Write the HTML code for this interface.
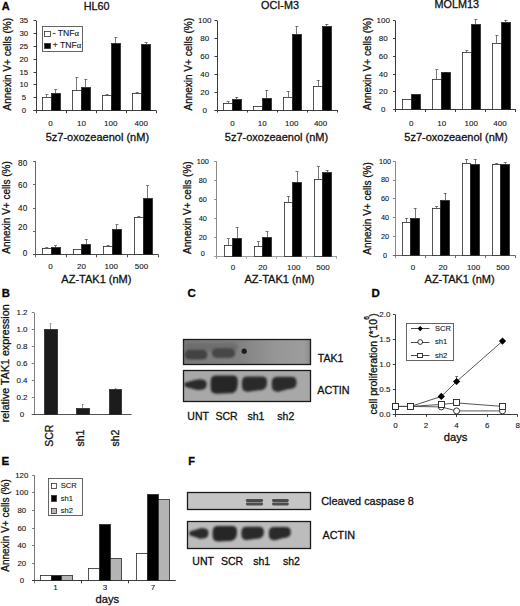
<!DOCTYPE html>
<html><head><meta charset="utf-8"><style>
html,body{margin:0;padding:0;background:#fff;}
body{width:520px;height:606px;overflow:hidden;}
svg{display:block;font-family:"Liberation Sans", sans-serif;}
text{stroke:#111;stroke-width:0.3px;}
text.s{stroke:#222;stroke-width:0.1px;}
</style></head><body>
<svg width="520" height="606" viewBox="0 0 520 606">
<defs>
<filter id="b1" x="-50%" y="-50%" width="200%" height="200%"><feGaussianBlur stdDeviation="1.25"/></filter>
<filter id="b2" x="-50%" y="-50%" width="200%" height="200%"><feGaussianBlur stdDeviation="1.8"/></filter>
<filter id="b07" x="-50%" y="-50%" width="200%" height="200%"><feGaussianBlur stdDeviation="0.75"/></filter>
<filter id="b05" x="-50%" y="-50%" width="200%" height="200%"><feGaussianBlur stdDeviation="0.6"/></filter>
<linearGradient id="gtak" x1="0" x2="1" y1="0" y2="0"><stop offset="0" stop-color="#7a7a7a"/><stop offset="0.45" stop-color="#828282"/><stop offset="0.6" stop-color="#8d8d8d"/><stop offset="0.72" stop-color="#969696"/><stop offset="0.88" stop-color="#9b9b9b"/><stop offset="0.95" stop-color="#9d9d9d"/><stop offset="1" stop-color="#8a8a8a"/></linearGradient>
</defs>
<rect x="0" y="0" width="520" height="606" fill="#fff"/>
<line x1="36.50" y1="20.60" x2="36.50" y2="113.20" stroke="#3a3a3a" stroke-width="1"/>
<line x1="33.50" y1="110.50" x2="36.00" y2="110.50" stroke="#3a3a3a" stroke-width="1"/>
<text class="s" x="23.80" y="113.20" font-size="7.8" text-anchor="middle" font-weight="normal" fill="#111">0</text>
<line x1="33.50" y1="97.50" x2="36.00" y2="97.50" stroke="#3a3a3a" stroke-width="1"/>
<text class="s" x="23.80" y="100.32" font-size="7.8" text-anchor="middle" font-weight="normal" fill="#111">5</text>
<line x1="33.50" y1="84.50" x2="36.00" y2="84.50" stroke="#3a3a3a" stroke-width="1"/>
<text class="s" x="23.80" y="87.45" font-size="7.8" text-anchor="middle" font-weight="normal" fill="#111">10</text>
<line x1="33.50" y1="72.50" x2="36.00" y2="72.50" stroke="#3a3a3a" stroke-width="1"/>
<text class="s" x="23.80" y="74.58" font-size="7.8" text-anchor="middle" font-weight="normal" fill="#111">15</text>
<line x1="33.50" y1="59.50" x2="36.00" y2="59.50" stroke="#3a3a3a" stroke-width="1"/>
<text class="s" x="23.80" y="61.71" font-size="7.8" text-anchor="middle" font-weight="normal" fill="#111">20</text>
<line x1="33.50" y1="46.50" x2="36.00" y2="46.50" stroke="#3a3a3a" stroke-width="1"/>
<text class="s" x="23.80" y="48.84" font-size="7.8" text-anchor="middle" font-weight="normal" fill="#111">25</text>
<line x1="33.50" y1="33.50" x2="36.00" y2="33.50" stroke="#3a3a3a" stroke-width="1"/>
<text class="s" x="23.80" y="35.97" font-size="7.8" text-anchor="middle" font-weight="normal" fill="#111">30</text>
<line x1="33.50" y1="20.50" x2="36.00" y2="20.50" stroke="#3a3a3a" stroke-width="1"/>
<text class="s" x="23.80" y="23.10" font-size="7.8" text-anchor="middle" font-weight="normal" fill="#111">35</text>
<line x1="33.50" y1="110.50" x2="156.50" y2="110.50" stroke="#3a3a3a" stroke-width="1"/>
<line x1="66.50" y1="110.70" x2="66.50" y2="113.20" stroke="#3a3a3a" stroke-width="1"/>
<line x1="96.50" y1="110.70" x2="96.50" y2="113.20" stroke="#3a3a3a" stroke-width="1"/>
<line x1="126.50" y1="110.70" x2="126.50" y2="113.20" stroke="#3a3a3a" stroke-width="1"/>
<line x1="156.50" y1="110.70" x2="156.50" y2="113.20" stroke="#3a3a3a" stroke-width="1"/>
<line x1="46.50" y1="95.00" x2="46.50" y2="97.31" stroke="#555" stroke-width="0.8"/>
<line x1="45.35" y1="94.50" x2="48.35" y2="94.50" stroke="#555" stroke-width="0.8"/>
<rect x="42.50" y="97.50" width="9.00" height="13.00" fill="#fff" stroke="#2a2a2a" stroke-width="0.8"/>
<line x1="55.50" y1="89.33" x2="55.50" y2="93.19" stroke="#555" stroke-width="0.8"/>
<line x1="54.25" y1="89.50" x2="57.25" y2="89.50" stroke="#555" stroke-width="0.8"/>
<rect x="51.50" y="93.50" width="9.00" height="17.00" fill="#000" stroke="#2a2a2a" stroke-width="0.8"/>
<line x1="76.50" y1="77.75" x2="76.50" y2="90.88" stroke="#555" stroke-width="0.8"/>
<line x1="75.45" y1="77.50" x2="78.45" y2="77.50" stroke="#555" stroke-width="0.8"/>
<rect x="72.50" y="90.50" width="9.00" height="20.00" fill="#fff" stroke="#2a2a2a" stroke-width="0.8"/>
<line x1="85.50" y1="79.55" x2="85.50" y2="87.27" stroke="#555" stroke-width="0.8"/>
<line x1="84.35" y1="79.50" x2="87.35" y2="79.50" stroke="#555" stroke-width="0.8"/>
<rect x="81.50" y="87.50" width="9.00" height="23.00" fill="#000" stroke="#2a2a2a" stroke-width="0.8"/>
<line x1="107.50" y1="94.48" x2="107.50" y2="95.25" stroke="#555" stroke-width="0.8"/>
<line x1="105.55" y1="94.50" x2="108.55" y2="94.50" stroke="#555" stroke-width="0.8"/>
<rect x="102.50" y="95.50" width="9.00" height="15.00" fill="#fff" stroke="#2a2a2a" stroke-width="0.8"/>
<line x1="115.50" y1="37.33" x2="115.50" y2="43.51" stroke="#555" stroke-width="0.8"/>
<line x1="114.45" y1="37.50" x2="117.45" y2="37.50" stroke="#555" stroke-width="0.8"/>
<rect x="111.50" y="43.50" width="9.00" height="67.00" fill="#000" stroke="#2a2a2a" stroke-width="0.8"/>
<line x1="137.50" y1="92.17" x2="137.50" y2="93.71" stroke="#555" stroke-width="0.8"/>
<line x1="135.65" y1="92.50" x2="138.65" y2="92.50" stroke="#555" stroke-width="0.8"/>
<rect x="132.50" y="93.50" width="9.00" height="17.00" fill="#fff" stroke="#2a2a2a" stroke-width="0.8"/>
<line x1="146.50" y1="42.74" x2="146.50" y2="44.03" stroke="#555" stroke-width="0.8"/>
<line x1="144.55" y1="42.50" x2="147.55" y2="42.50" stroke="#555" stroke-width="0.8"/>
<rect x="141.50" y="44.50" width="9.00" height="66.00" fill="#000" stroke="#2a2a2a" stroke-width="0.8"/>
<text class="s" x="50.50" y="125.96" font-size="8" text-anchor="middle" font-weight="normal" fill="#111">0</text>
<text class="s" x="81.50" y="125.96" font-size="8" text-anchor="middle" font-weight="normal" fill="#111">10</text>
<text class="s" x="110.80" y="125.96" font-size="8" text-anchor="middle" font-weight="normal" fill="#111">100</text>
<text class="s" x="141.30" y="125.96" font-size="8" text-anchor="middle" font-weight="normal" fill="#111">400</text>
<text x="7.70" y="67.40" font-size="10" text-anchor="middle" font-weight="normal" fill="#111" transform="rotate(-90 7.70 64.20)">Annexin V+ cells (%)</text>
<line x1="217.50" y1="20.50" x2="217.50" y2="112.50" stroke="#3a3a3a" stroke-width="1"/>
<line x1="214.50" y1="110.50" x2="217.00" y2="110.50" stroke="#3a3a3a" stroke-width="1"/>
<text class="s" x="204.80" y="112.56" font-size="8" text-anchor="middle" font-weight="normal" fill="#111">0</text>
<line x1="214.50" y1="92.50" x2="217.00" y2="92.50" stroke="#3a3a3a" stroke-width="1"/>
<text class="s" x="204.80" y="94.66" font-size="8" text-anchor="middle" font-weight="normal" fill="#111">20</text>
<line x1="214.50" y1="74.50" x2="217.00" y2="74.50" stroke="#3a3a3a" stroke-width="1"/>
<text class="s" x="204.80" y="76.76" font-size="8" text-anchor="middle" font-weight="normal" fill="#111">40</text>
<line x1="214.50" y1="56.50" x2="217.00" y2="56.50" stroke="#3a3a3a" stroke-width="1"/>
<text class="s" x="204.80" y="58.86" font-size="8" text-anchor="middle" font-weight="normal" fill="#111">60</text>
<line x1="214.50" y1="38.50" x2="217.00" y2="38.50" stroke="#3a3a3a" stroke-width="1"/>
<text class="s" x="204.80" y="40.96" font-size="8" text-anchor="middle" font-weight="normal" fill="#111">80</text>
<line x1="214.50" y1="20.50" x2="217.00" y2="20.50" stroke="#3a3a3a" stroke-width="1"/>
<text class="s" x="204.80" y="23.06" font-size="8" text-anchor="middle" font-weight="normal" fill="#111">100</text>
<line x1="214.50" y1="110.50" x2="337.00" y2="110.50" stroke="#3a3a3a" stroke-width="1"/>
<line x1="247.50" y1="110.00" x2="247.50" y2="112.50" stroke="#3a3a3a" stroke-width="1"/>
<line x1="277.50" y1="110.00" x2="277.50" y2="112.50" stroke="#3a3a3a" stroke-width="1"/>
<line x1="307.50" y1="110.00" x2="307.50" y2="112.50" stroke="#3a3a3a" stroke-width="1"/>
<line x1="337.50" y1="110.00" x2="337.50" y2="112.50" stroke="#3a3a3a" stroke-width="1"/>
<line x1="228.50" y1="101.32" x2="228.50" y2="103.91" stroke="#555" stroke-width="0.8"/>
<line x1="226.60" y1="101.50" x2="229.60" y2="101.50" stroke="#555" stroke-width="0.8"/>
<rect x="223.50" y="103.50" width="9.00" height="7.00" fill="#fff" stroke="#2a2a2a" stroke-width="0.8"/>
<line x1="236.50" y1="97.02" x2="236.50" y2="99.26" stroke="#555" stroke-width="0.8"/>
<line x1="235.35" y1="97.50" x2="238.35" y2="97.50" stroke="#555" stroke-width="0.8"/>
<rect x="232.50" y="99.50" width="9.00" height="11.00" fill="#000" stroke="#2a2a2a" stroke-width="0.8"/>
<rect x="253.50" y="106.50" width="9.00" height="4.00" fill="#fff" stroke="#2a2a2a" stroke-width="0.8"/>
<line x1="266.50" y1="90.31" x2="266.50" y2="98.10" stroke="#555" stroke-width="0.8"/>
<line x1="265.35" y1="90.50" x2="268.35" y2="90.50" stroke="#555" stroke-width="0.8"/>
<rect x="262.50" y="98.50" width="9.00" height="12.00" fill="#000" stroke="#2a2a2a" stroke-width="0.8"/>
<line x1="288.50" y1="91.20" x2="288.50" y2="97.56" stroke="#555" stroke-width="0.8"/>
<line x1="286.60" y1="91.50" x2="289.60" y2="91.50" stroke="#555" stroke-width="0.8"/>
<rect x="283.50" y="97.50" width="9.00" height="13.00" fill="#fff" stroke="#2a2a2a" stroke-width="0.8"/>
<line x1="296.50" y1="26.23" x2="296.50" y2="34.10" stroke="#555" stroke-width="0.8"/>
<line x1="295.35" y1="26.50" x2="298.35" y2="26.50" stroke="#555" stroke-width="0.8"/>
<rect x="292.50" y="34.50" width="9.00" height="76.00" fill="#000" stroke="#2a2a2a" stroke-width="0.8"/>
<line x1="318.50" y1="80.11" x2="318.50" y2="86.73" stroke="#555" stroke-width="0.8"/>
<line x1="316.60" y1="80.50" x2="319.60" y2="80.50" stroke="#555" stroke-width="0.8"/>
<rect x="313.50" y="86.50" width="9.00" height="24.00" fill="#fff" stroke="#2a2a2a" stroke-width="0.8"/>
<line x1="326.50" y1="24.08" x2="326.50" y2="26.23" stroke="#555" stroke-width="0.8"/>
<line x1="325.35" y1="24.50" x2="328.35" y2="24.50" stroke="#555" stroke-width="0.8"/>
<rect x="322.50" y="26.50" width="9.00" height="84.00" fill="#000" stroke="#2a2a2a" stroke-width="0.8"/>
<text class="s" x="232.50" y="125.96" font-size="8" text-anchor="middle" font-weight="normal" fill="#111">0</text>
<text class="s" x="262.20" y="125.96" font-size="8" text-anchor="middle" font-weight="normal" fill="#111">10</text>
<text class="s" x="291.80" y="125.96" font-size="8" text-anchor="middle" font-weight="normal" fill="#111">100</text>
<text class="s" x="320.60" y="125.96" font-size="8" text-anchor="middle" font-weight="normal" fill="#111">400</text>
<text x="188.60" y="67.40" font-size="10" text-anchor="middle" font-weight="normal" fill="#111" transform="rotate(-90 188.60 64.20)">Annexin V+ cells (%)</text>
<line x1="395.50" y1="20.80" x2="395.50" y2="112.00" stroke="#3a3a3a" stroke-width="1"/>
<line x1="393.00" y1="109.50" x2="395.50" y2="109.50" stroke="#3a3a3a" stroke-width="1"/>
<text class="s" x="383.30" y="112.06" font-size="8" text-anchor="middle" font-weight="normal" fill="#111">0</text>
<line x1="393.00" y1="91.50" x2="395.50" y2="91.50" stroke="#3a3a3a" stroke-width="1"/>
<text class="s" x="383.30" y="94.32" font-size="8" text-anchor="middle" font-weight="normal" fill="#111">20</text>
<line x1="393.00" y1="74.50" x2="395.50" y2="74.50" stroke="#3a3a3a" stroke-width="1"/>
<text class="s" x="383.30" y="76.58" font-size="8" text-anchor="middle" font-weight="normal" fill="#111">40</text>
<line x1="393.00" y1="56.50" x2="395.50" y2="56.50" stroke="#3a3a3a" stroke-width="1"/>
<text class="s" x="383.30" y="58.84" font-size="8" text-anchor="middle" font-weight="normal" fill="#111">60</text>
<line x1="393.00" y1="38.50" x2="395.50" y2="38.50" stroke="#3a3a3a" stroke-width="1"/>
<text class="s" x="383.30" y="41.10" font-size="8" text-anchor="middle" font-weight="normal" fill="#111">80</text>
<line x1="393.00" y1="20.50" x2="395.50" y2="20.50" stroke="#3a3a3a" stroke-width="1"/>
<text class="s" x="383.30" y="23.36" font-size="8" text-anchor="middle" font-weight="normal" fill="#111">100</text>
<line x1="393.00" y1="109.50" x2="515.80" y2="109.50" stroke="#3a3a3a" stroke-width="1"/>
<line x1="425.50" y1="109.50" x2="425.50" y2="112.00" stroke="#3a3a3a" stroke-width="1"/>
<line x1="455.50" y1="109.50" x2="455.50" y2="112.00" stroke="#3a3a3a" stroke-width="1"/>
<line x1="485.50" y1="109.50" x2="485.50" y2="112.00" stroke="#3a3a3a" stroke-width="1"/>
<line x1="515.50" y1="109.50" x2="515.50" y2="112.00" stroke="#3a3a3a" stroke-width="1"/>
<rect x="402.50" y="99.50" width="9.00" height="10.00" fill="#fff" stroke="#2a2a2a" stroke-width="0.8"/>
<rect x="411.50" y="94.50" width="9.00" height="15.00" fill="#000" stroke="#2a2a2a" stroke-width="0.8"/>
<line x1="436.50" y1="69.85" x2="436.50" y2="79.25" stroke="#555" stroke-width="0.8"/>
<line x1="435.40" y1="69.50" x2="438.40" y2="69.50" stroke="#555" stroke-width="0.8"/>
<rect x="432.50" y="79.50" width="9.00" height="30.00" fill="#fff" stroke="#2a2a2a" stroke-width="0.8"/>
<line x1="445.50" y1="72.25" x2="445.50" y2="72.69" stroke="#555" stroke-width="0.8"/>
<line x1="444.40" y1="72.50" x2="447.40" y2="72.50" stroke="#555" stroke-width="0.8"/>
<rect x="441.50" y="72.50" width="9.00" height="37.00" fill="#000" stroke="#2a2a2a" stroke-width="0.8"/>
<line x1="466.50" y1="50.87" x2="466.50" y2="52.91" stroke="#555" stroke-width="0.8"/>
<line x1="465.40" y1="50.50" x2="468.40" y2="50.50" stroke="#555" stroke-width="0.8"/>
<rect x="462.50" y="52.50" width="9.00" height="57.00" fill="#fff" stroke="#2a2a2a" stroke-width="0.8"/>
<line x1="475.50" y1="19.03" x2="475.50" y2="24.26" stroke="#555" stroke-width="0.8"/>
<line x1="474.40" y1="19.50" x2="477.40" y2="19.50" stroke="#555" stroke-width="0.8"/>
<rect x="471.50" y="24.50" width="9.00" height="85.00" fill="#000" stroke="#2a2a2a" stroke-width="0.8"/>
<line x1="496.50" y1="35.52" x2="496.50" y2="43.42" stroke="#555" stroke-width="0.8"/>
<line x1="495.40" y1="35.50" x2="498.40" y2="35.50" stroke="#555" stroke-width="0.8"/>
<rect x="492.50" y="43.50" width="9.00" height="66.00" fill="#fff" stroke="#2a2a2a" stroke-width="0.8"/>
<line x1="505.50" y1="20.09" x2="505.50" y2="22.04" stroke="#555" stroke-width="0.8"/>
<line x1="504.40" y1="20.50" x2="507.40" y2="20.50" stroke="#555" stroke-width="0.8"/>
<rect x="501.50" y="22.50" width="9.00" height="87.00" fill="#000" stroke="#2a2a2a" stroke-width="0.8"/>
<text class="s" x="411.30" y="125.96" font-size="8" text-anchor="middle" font-weight="normal" fill="#111">0</text>
<text class="s" x="441.70" y="125.96" font-size="8" text-anchor="middle" font-weight="normal" fill="#111">10</text>
<text class="s" x="471.30" y="125.96" font-size="8" text-anchor="middle" font-weight="normal" fill="#111">100</text>
<text class="s" x="500.00" y="125.96" font-size="8" text-anchor="middle" font-weight="normal" fill="#111">400</text>
<text x="367.60" y="67.20" font-size="10" text-anchor="middle" font-weight="normal" fill="#111" transform="rotate(-90 367.60 64.00)">Annexin V+ cells (%)</text>
<text x="97.40" y="141.22" font-size="11" text-anchor="middle" font-weight="normal" fill="#111">5z7-oxozeaenol (nM)</text>
<text x="276.50" y="141.32" font-size="11" text-anchor="middle" font-weight="normal" fill="#111">5z7-oxozeaenol (nM)</text>
<text x="456.00" y="141.32" font-size="11" text-anchor="middle" font-weight="normal" fill="#111">5z7-oxozeaenol (nM)</text>
<text x="96.60" y="9.66" font-size="10.8" text-anchor="middle" font-weight="normal" fill="#111">HL60</text>
<text x="280.00" y="9.36" font-size="10.8" text-anchor="middle" font-weight="normal" fill="#111">OCI-M3</text>
<text x="456.70" y="8.36" font-size="10.8" text-anchor="middle" font-weight="normal" fill="#111">MOLM13</text>
<text x="1.80" y="9.52" font-size="11" text-anchor="start" font-weight="bold" fill="#000">A</text>
<rect x="42.50" y="26.50" width="40.00" height="25.00" fill="#fff" stroke="#555" stroke-width="0.9"/>
<rect x="44.50" y="31.50" width="6.00" height="5.00" fill="#fff" stroke="#333" stroke-width="0.8"/>
<rect x="44.50" y="43.50" width="6.00" height="5.00" fill="#000" stroke="#333" stroke-width="0.8"/>
<text class="s" x="52.70" y="36.35" font-size="8.6" text-anchor="start" font-weight="normal" fill="#111">- TNF<tspan font-family="Liberation Serif">α</tspan></text>
<text class="s" x="52.70" y="48.45" font-size="8.6" text-anchor="start" font-weight="normal" fill="#111">+ TNF<tspan font-family="Liberation Serif">α</tspan></text>
<line x1="35.50" y1="161.20" x2="35.50" y2="257.30" stroke="#666" stroke-width="1"/>
<line x1="33.00" y1="254.50" x2="35.50" y2="254.50" stroke="#666" stroke-width="1"/>
<text class="s" x="27.20" y="255.72" font-size="8.2" text-anchor="end" font-weight="normal" fill="#111">0</text>
<line x1="33.00" y1="231.50" x2="35.50" y2="231.50" stroke="#666" stroke-width="1"/>
<text class="s" x="27.20" y="230.22" font-size="8.2" text-anchor="end" font-weight="normal" fill="#111">20</text>
<line x1="33.00" y1="208.50" x2="35.50" y2="208.50" stroke="#666" stroke-width="1"/>
<text class="s" x="27.20" y="211.12" font-size="8.2" text-anchor="end" font-weight="normal" fill="#111">40</text>
<line x1="33.00" y1="184.50" x2="35.50" y2="184.50" stroke="#666" stroke-width="1"/>
<text class="s" x="27.20" y="187.72" font-size="8.2" text-anchor="end" font-weight="normal" fill="#111">60</text>
<line x1="33.00" y1="161.50" x2="35.50" y2="161.50" stroke="#666" stroke-width="1"/>
<text class="s" x="27.20" y="166.22" font-size="8.2" text-anchor="end" font-weight="normal" fill="#111">80</text>
<line x1="33.00" y1="254.50" x2="158.70" y2="254.50" stroke="#4a4a4a" stroke-width="1"/>
<line x1="66.50" y1="254.80" x2="66.50" y2="257.30" stroke="#4a4a4a" stroke-width="1"/>
<line x1="96.50" y1="254.80" x2="96.50" y2="257.30" stroke="#4a4a4a" stroke-width="1"/>
<line x1="127.50" y1="254.80" x2="127.50" y2="257.30" stroke="#4a4a4a" stroke-width="1"/>
<line x1="158.50" y1="254.80" x2="158.50" y2="257.30" stroke="#4a4a4a" stroke-width="1"/>
<line x1="46.50" y1="247.55" x2="46.50" y2="248.25" stroke="#555" stroke-width="0.8"/>
<line x1="45.25" y1="247.50" x2="48.25" y2="247.50" stroke="#555" stroke-width="0.8"/>
<rect x="42.50" y="248.50" width="9.00" height="6.00" fill="#fff" stroke="#2a2a2a" stroke-width="0.8"/>
<line x1="55.50" y1="245.79" x2="55.50" y2="247.78" stroke="#555" stroke-width="0.8"/>
<line x1="54.05" y1="245.50" x2="57.05" y2="245.50" stroke="#555" stroke-width="0.8"/>
<rect x="51.50" y="247.50" width="9.00" height="7.00" fill="#000" stroke="#2a2a2a" stroke-width="0.8"/>
<rect x="73.50" y="249.50" width="8.00" height="5.00" fill="#fff" stroke="#2a2a2a" stroke-width="0.8"/>
<line x1="86.50" y1="239.12" x2="86.50" y2="244.86" stroke="#555" stroke-width="0.8"/>
<line x1="84.75" y1="239.50" x2="87.75" y2="239.50" stroke="#555" stroke-width="0.8"/>
<rect x="81.50" y="244.50" width="9.00" height="10.00" fill="#000" stroke="#2a2a2a" stroke-width="0.8"/>
<line x1="108.50" y1="245.21" x2="108.50" y2="246.03" stroke="#555" stroke-width="0.8"/>
<line x1="106.65" y1="245.50" x2="109.65" y2="245.50" stroke="#555" stroke-width="0.8"/>
<rect x="103.50" y="246.50" width="9.00" height="8.00" fill="#fff" stroke="#2a2a2a" stroke-width="0.8"/>
<line x1="116.50" y1="224.97" x2="116.50" y2="229.88" stroke="#555" stroke-width="0.8"/>
<line x1="115.45" y1="224.50" x2="118.45" y2="224.50" stroke="#555" stroke-width="0.8"/>
<rect x="112.50" y="229.50" width="9.00" height="25.00" fill="#000" stroke="#2a2a2a" stroke-width="0.8"/>
<line x1="138.50" y1="216.19" x2="138.50" y2="217.36" stroke="#555" stroke-width="0.8"/>
<line x1="137.35" y1="216.50" x2="140.35" y2="216.50" stroke="#555" stroke-width="0.8"/>
<rect x="134.50" y="217.50" width="9.00" height="37.00" fill="#fff" stroke="#2a2a2a" stroke-width="0.8"/>
<line x1="147.50" y1="185.77" x2="147.50" y2="198.52" stroke="#555" stroke-width="0.8"/>
<line x1="146.15" y1="185.50" x2="149.15" y2="185.50" stroke="#555" stroke-width="0.8"/>
<rect x="143.50" y="198.50" width="9.00" height="56.00" fill="#000" stroke="#2a2a2a" stroke-width="0.8"/>
<text class="s" x="50.50" y="268.96" font-size="8" text-anchor="middle" font-weight="normal" fill="#111">0</text>
<text class="s" x="81.50" y="268.96" font-size="8" text-anchor="middle" font-weight="normal" fill="#111">20</text>
<text class="s" x="111.30" y="268.96" font-size="8" text-anchor="middle" font-weight="normal" fill="#111">100</text>
<text class="s" x="141.50" y="268.96" font-size="8" text-anchor="middle" font-weight="normal" fill="#111">500</text>
<text x="6.60" y="210.70" font-size="10" text-anchor="middle" font-weight="normal" fill="#111" transform="rotate(-90 6.60 207.50)">Annexin V+ cells (%)</text>
<line x1="216.50" y1="161.50" x2="216.50" y2="258.70" stroke="#8a8a8a" stroke-width="1"/>
<line x1="214.20" y1="256.50" x2="216.70" y2="256.50" stroke="#8a8a8a" stroke-width="1"/>
<text class="s" x="202.80" y="256.44" font-size="7.3" text-anchor="middle" font-weight="normal" fill="#111">0</text>
<line x1="214.20" y1="237.50" x2="216.70" y2="237.50" stroke="#8a8a8a" stroke-width="1"/>
<text class="s" x="202.80" y="240.14" font-size="7.3" text-anchor="middle" font-weight="normal" fill="#111">20</text>
<line x1="214.20" y1="218.50" x2="216.70" y2="218.50" stroke="#8a8a8a" stroke-width="1"/>
<text class="s" x="202.80" y="220.64" font-size="7.3" text-anchor="middle" font-weight="normal" fill="#111">40</text>
<line x1="214.20" y1="199.50" x2="216.70" y2="199.50" stroke="#8a8a8a" stroke-width="1"/>
<text class="s" x="202.80" y="202.04" font-size="7.3" text-anchor="middle" font-weight="normal" fill="#111">60</text>
<line x1="214.20" y1="180.50" x2="216.70" y2="180.50" stroke="#8a8a8a" stroke-width="1"/>
<text class="s" x="202.80" y="183.34" font-size="7.3" text-anchor="middle" font-weight="normal" fill="#111">80</text>
<line x1="214.20" y1="161.50" x2="216.70" y2="161.50" stroke="#8a8a8a" stroke-width="1"/>
<text class="s" x="202.80" y="163.94" font-size="7.3" text-anchor="middle" font-weight="normal" fill="#111">100</text>
<line x1="214.20" y1="256.50" x2="336.50" y2="256.50" stroke="#a0a0a0" stroke-width="1"/>
<line x1="246.50" y1="256.20" x2="246.50" y2="258.70" stroke="#a0a0a0" stroke-width="1"/>
<line x1="276.50" y1="256.20" x2="276.50" y2="258.70" stroke="#a0a0a0" stroke-width="1"/>
<line x1="306.50" y1="256.20" x2="306.50" y2="258.70" stroke="#a0a0a0" stroke-width="1"/>
<line x1="336.50" y1="256.20" x2="336.50" y2="258.70" stroke="#a0a0a0" stroke-width="1"/>
<line x1="228.50" y1="238.87" x2="228.50" y2="245.78" stroke="#555" stroke-width="0.8"/>
<line x1="226.85" y1="238.50" x2="229.85" y2="238.50" stroke="#555" stroke-width="0.8"/>
<rect x="224.50" y="245.50" width="8.00" height="11.00" fill="#fff" stroke="#2a2a2a" stroke-width="0.8"/>
<line x1="237.50" y1="227.32" x2="237.50" y2="238.87" stroke="#555" stroke-width="0.8"/>
<line x1="235.55" y1="227.50" x2="238.55" y2="227.50" stroke="#555" stroke-width="0.8"/>
<rect x="232.50" y="238.50" width="9.00" height="18.00" fill="#000" stroke="#2a2a2a" stroke-width="0.8"/>
<line x1="258.50" y1="242.00" x2="258.50" y2="246.16" stroke="#555" stroke-width="0.8"/>
<line x1="256.85" y1="241.50" x2="259.85" y2="241.50" stroke="#555" stroke-width="0.8"/>
<rect x="254.50" y="246.50" width="8.00" height="10.00" fill="#fff" stroke="#2a2a2a" stroke-width="0.8"/>
<line x1="267.50" y1="231.67" x2="267.50" y2="237.54" stroke="#555" stroke-width="0.8"/>
<line x1="265.55" y1="231.50" x2="268.55" y2="231.50" stroke="#555" stroke-width="0.8"/>
<rect x="262.50" y="237.50" width="9.00" height="19.00" fill="#000" stroke="#2a2a2a" stroke-width="0.8"/>
<line x1="288.50" y1="196.35" x2="288.50" y2="202.22" stroke="#555" stroke-width="0.8"/>
<line x1="286.85" y1="196.50" x2="289.85" y2="196.50" stroke="#555" stroke-width="0.8"/>
<rect x="284.50" y="202.50" width="8.00" height="54.00" fill="#fff" stroke="#2a2a2a" stroke-width="0.8"/>
<line x1="297.50" y1="171.73" x2="297.50" y2="182.52" stroke="#555" stroke-width="0.8"/>
<line x1="295.55" y1="171.50" x2="298.55" y2="171.50" stroke="#555" stroke-width="0.8"/>
<rect x="292.50" y="182.50" width="9.00" height="74.00" fill="#000" stroke="#2a2a2a" stroke-width="0.8"/>
<line x1="318.50" y1="166.90" x2="318.50" y2="179.68" stroke="#555" stroke-width="0.8"/>
<line x1="316.85" y1="166.50" x2="319.85" y2="166.50" stroke="#555" stroke-width="0.8"/>
<rect x="314.50" y="179.50" width="8.00" height="77.00" fill="#fff" stroke="#2a2a2a" stroke-width="0.8"/>
<line x1="327.50" y1="170.31" x2="327.50" y2="172.86" stroke="#555" stroke-width="0.8"/>
<line x1="325.55" y1="170.50" x2="328.55" y2="170.50" stroke="#555" stroke-width="0.8"/>
<rect x="322.50" y="172.50" width="9.00" height="84.00" fill="#000" stroke="#2a2a2a" stroke-width="0.8"/>
<text class="s" x="233.00" y="269.66" font-size="8" text-anchor="middle" font-weight="normal" fill="#111">0</text>
<text class="s" x="262.80" y="269.66" font-size="8" text-anchor="middle" font-weight="normal" fill="#111">20</text>
<text class="s" x="293.80" y="269.66" font-size="8" text-anchor="middle" font-weight="normal" fill="#111">100</text>
<text class="s" x="323.00" y="269.66" font-size="8" text-anchor="middle" font-weight="normal" fill="#111">500</text>
<text x="187.60" y="210.80" font-size="10" text-anchor="middle" font-weight="normal" fill="#111" transform="rotate(-90 187.60 207.60)">Annexin V+ cells (%)</text>
<line x1="395.50" y1="161.20" x2="395.50" y2="258.10" stroke="#8a8a8a" stroke-width="1"/>
<line x1="392.90" y1="255.50" x2="395.40" y2="255.50" stroke="#8a8a8a" stroke-width="1"/>
<text class="s" x="385.00" y="257.94" font-size="7.3" text-anchor="middle" font-weight="normal" fill="#111">0</text>
<line x1="392.90" y1="236.50" x2="395.40" y2="236.50" stroke="#8a8a8a" stroke-width="1"/>
<text class="s" x="385.00" y="239.06" font-size="7.3" text-anchor="middle" font-weight="normal" fill="#111">20</text>
<line x1="392.90" y1="217.50" x2="395.40" y2="217.50" stroke="#8a8a8a" stroke-width="1"/>
<text class="s" x="385.00" y="220.18" font-size="7.3" text-anchor="middle" font-weight="normal" fill="#111">40</text>
<line x1="392.90" y1="198.50" x2="395.40" y2="198.50" stroke="#8a8a8a" stroke-width="1"/>
<text class="s" x="385.00" y="201.30" font-size="7.3" text-anchor="middle" font-weight="normal" fill="#111">60</text>
<line x1="392.90" y1="180.50" x2="395.40" y2="180.50" stroke="#8a8a8a" stroke-width="1"/>
<text class="s" x="385.00" y="182.42" font-size="7.3" text-anchor="middle" font-weight="normal" fill="#111">80</text>
<line x1="392.90" y1="161.50" x2="395.40" y2="161.50" stroke="#8a8a8a" stroke-width="1"/>
<text class="s" x="385.00" y="163.54" font-size="7.3" text-anchor="middle" font-weight="normal" fill="#111">100</text>
<line x1="392.90" y1="255.50" x2="515.50" y2="255.50" stroke="#6a6a6a" stroke-width="1"/>
<line x1="425.50" y1="255.60" x2="425.50" y2="258.10" stroke="#6a6a6a" stroke-width="1"/>
<line x1="455.50" y1="255.60" x2="455.50" y2="258.10" stroke="#6a6a6a" stroke-width="1"/>
<line x1="485.50" y1="255.60" x2="485.50" y2="258.10" stroke="#6a6a6a" stroke-width="1"/>
<line x1="515.50" y1="255.60" x2="515.50" y2="258.10" stroke="#6a6a6a" stroke-width="1"/>
<line x1="406.50" y1="218.31" x2="406.50" y2="222.28" stroke="#555" stroke-width="0.8"/>
<line x1="405.10" y1="218.50" x2="408.10" y2="218.50" stroke="#555" stroke-width="0.8"/>
<rect x="402.50" y="222.50" width="8.00" height="33.00" fill="#fff" stroke="#2a2a2a" stroke-width="0.8"/>
<line x1="415.50" y1="208.49" x2="415.50" y2="218.31" stroke="#555" stroke-width="0.8"/>
<line x1="413.70" y1="208.50" x2="416.70" y2="208.50" stroke="#555" stroke-width="0.8"/>
<rect x="410.50" y="218.50" width="9.00" height="37.00" fill="#000" stroke="#2a2a2a" stroke-width="0.8"/>
<line x1="436.50" y1="206.70" x2="436.50" y2="208.21" stroke="#555" stroke-width="0.8"/>
<line x1="435.10" y1="206.50" x2="438.10" y2="206.50" stroke="#555" stroke-width="0.8"/>
<rect x="432.50" y="208.50" width="8.00" height="47.00" fill="#fff" stroke="#2a2a2a" stroke-width="0.8"/>
<line x1="445.50" y1="193.01" x2="445.50" y2="200.09" stroke="#555" stroke-width="0.8"/>
<line x1="443.70" y1="193.50" x2="446.70" y2="193.50" stroke="#555" stroke-width="0.8"/>
<rect x="440.50" y="200.50" width="9.00" height="55.00" fill="#000" stroke="#2a2a2a" stroke-width="0.8"/>
<line x1="466.50" y1="159.50" x2="466.50" y2="163.09" stroke="#555" stroke-width="0.8"/>
<line x1="465.10" y1="159.50" x2="468.10" y2="159.50" stroke="#555" stroke-width="0.8"/>
<rect x="462.50" y="163.50" width="8.00" height="92.00" fill="#fff" stroke="#2a2a2a" stroke-width="0.8"/>
<line x1="475.50" y1="159.50" x2="475.50" y2="164.41" stroke="#555" stroke-width="0.8"/>
<line x1="473.70" y1="159.50" x2="476.70" y2="159.50" stroke="#555" stroke-width="0.8"/>
<rect x="470.50" y="164.50" width="9.00" height="91.00" fill="#000" stroke="#2a2a2a" stroke-width="0.8"/>
<line x1="496.50" y1="163.47" x2="496.50" y2="164.79" stroke="#555" stroke-width="0.8"/>
<line x1="495.10" y1="163.50" x2="498.10" y2="163.50" stroke="#555" stroke-width="0.8"/>
<rect x="492.50" y="164.50" width="8.00" height="91.00" fill="#fff" stroke="#2a2a2a" stroke-width="0.8"/>
<line x1="505.50" y1="162.71" x2="505.50" y2="164.22" stroke="#555" stroke-width="0.8"/>
<line x1="503.70" y1="162.50" x2="506.70" y2="162.50" stroke="#555" stroke-width="0.8"/>
<rect x="500.50" y="164.50" width="9.00" height="91.00" fill="#000" stroke="#2a2a2a" stroke-width="0.8"/>
<text class="s" x="412.90" y="269.66" font-size="8" text-anchor="middle" font-weight="normal" fill="#111">0</text>
<text class="s" x="442.90" y="269.66" font-size="8" text-anchor="middle" font-weight="normal" fill="#111">20</text>
<text class="s" x="473.60" y="269.66" font-size="8" text-anchor="middle" font-weight="normal" fill="#111">100</text>
<text class="s" x="502.90" y="269.66" font-size="8" text-anchor="middle" font-weight="normal" fill="#111">500</text>
<text x="368.30" y="211.70" font-size="10" text-anchor="middle" font-weight="normal" fill="#111" transform="rotate(-90 368.30 208.50)">Annexin V+ cells (%)</text>
<text x="96.40" y="283.22" font-size="11" text-anchor="middle" font-weight="normal" fill="#111">AZ-TAK1 (nM)</text>
<text x="279.50" y="283.42" font-size="11" text-anchor="middle" font-weight="normal" fill="#111">AZ-TAK1 (nM)</text>
<text x="459.60" y="283.42" font-size="11" text-anchor="middle" font-weight="normal" fill="#111">AZ-TAK1 (nM)</text>
<text x="1.70" y="297.22" font-size="11.3" text-anchor="start" font-weight="bold" fill="#000">B</text>
<line x1="34.50" y1="312.80" x2="34.50" y2="414.20" stroke="#808080" stroke-width="1"/>
<line x1="31.80" y1="414.50" x2="34.30" y2="414.50" stroke="#808080" stroke-width="1"/>
<text class="s" x="22.00" y="416.76" font-size="8" text-anchor="middle" font-weight="normal" fill="#111">0</text>
<line x1="31.80" y1="397.50" x2="34.30" y2="397.50" stroke="#808080" stroke-width="1"/>
<text class="s" x="22.00" y="399.86" font-size="8" text-anchor="middle" font-weight="normal" fill="#111">0.2</text>
<line x1="31.80" y1="380.50" x2="34.30" y2="380.50" stroke="#808080" stroke-width="1"/>
<text class="s" x="22.00" y="382.96" font-size="8" text-anchor="middle" font-weight="normal" fill="#111">0.4</text>
<line x1="31.80" y1="363.50" x2="34.30" y2="363.50" stroke="#808080" stroke-width="1"/>
<text class="s" x="22.00" y="366.06" font-size="8" text-anchor="middle" font-weight="normal" fill="#111">0.6</text>
<line x1="31.80" y1="346.50" x2="34.30" y2="346.50" stroke="#808080" stroke-width="1"/>
<text class="s" x="22.00" y="349.16" font-size="8" text-anchor="middle" font-weight="normal" fill="#111">0.8</text>
<line x1="31.80" y1="329.50" x2="34.30" y2="329.50" stroke="#808080" stroke-width="1"/>
<text class="s" x="22.00" y="332.26" font-size="8" text-anchor="middle" font-weight="normal" fill="#111">1.0</text>
<line x1="31.80" y1="312.50" x2="34.30" y2="312.50" stroke="#808080" stroke-width="1"/>
<text class="s" x="22.00" y="315.36" font-size="8" text-anchor="middle" font-weight="normal" fill="#111">1.2</text>
<line x1="31.80" y1="414.50" x2="131.60" y2="414.50" stroke="#555" stroke-width="1"/>
<line x1="50.50" y1="323.78" x2="50.50" y2="329.70" stroke="#777" stroke-width="0.8"/>
<line x1="49.80" y1="323.50" x2="51.40" y2="323.50" stroke="#777" stroke-width="0.8"/>
<rect x="44.50" y="329.50" width="13.00" height="85.00" fill="#1c1c1c" stroke="#2a2a2a" stroke-width="0.8"/>
<line x1="82.50" y1="404.06" x2="82.50" y2="408.28" stroke="#777" stroke-width="0.8"/>
<line x1="82.05" y1="404.50" x2="83.65" y2="404.50" stroke="#777" stroke-width="0.8"/>
<rect x="76.50" y="408.50" width="13.00" height="6.00" fill="#1c1c1c" stroke="#2a2a2a" stroke-width="0.8"/>
<line x1="115.50" y1="388.43" x2="115.50" y2="389.69" stroke="#777" stroke-width="0.8"/>
<line x1="114.75" y1="388.50" x2="116.35" y2="388.50" stroke="#777" stroke-width="0.8"/>
<rect x="109.50" y="389.50" width="12.00" height="25.00" fill="#1c1c1c" stroke="#2a2a2a" stroke-width="0.8"/>
<text x="5.60" y="366.72" font-size="10.7" text-anchor="middle" font-weight="normal" fill="#111" transform="rotate(-90 5.60 363.30)">relative TAK1 expression</text>
<text x="49.70" y="439.06" font-size="10.5" text-anchor="middle" font-weight="normal" fill="#111" transform="rotate(-90 49.70 435.70)">SCR</text>
<text x="80.70" y="441.46" font-size="10.5" text-anchor="middle" font-weight="normal" fill="#111" transform="rotate(-90 80.70 438.10)">sh1</text>
<text x="115.30" y="441.46" font-size="10.5" text-anchor="middle" font-weight="normal" fill="#111" transform="rotate(-90 115.30 438.10)">sh2</text>
<text x="187.60" y="297.28" font-size="11.5" text-anchor="start" font-weight="bold" fill="#000">C</text>
<rect x="183.50" y="339.50" width="127.00" height="25.00" fill="url(#gtak)" stroke="#1a1a1a" stroke-width="1.3"/>
<rect x="184.50" y="342.50" width="53.50" height="9.00" rx="4.50" fill="#6e6e6e" filter="url(#b2)"/>
<rect x="184.60" y="349.80" width="22.80" height="9.80" rx="4.90" fill="#424242" filter="url(#b1)"/>
<rect x="211.80" y="348.20" width="23.40" height="9.80" rx="4.90" fill="#464646" filter="url(#b1)"/>
<circle cx="244.2" cy="351.2" r="2.6" fill="#1a1a1a" filter="url(#b05)"/>
<rect x="183.50" y="370.50" width="127.00" height="31.00" fill="#a8a8a8" stroke="#1a1a1a" stroke-width="1.3"/>
<path d="M184.6,382.8 C188.6,381.6 192.6,380.28000000000003 199.6,379.20000000000005 C206.6,379.20000000000005 207.1,382.44 206.6,384.8 C206.6,390.0 201.6,390.0 197.6,390.0 C192.6,388.92 188.6,387.6 184.6,386.40000000000003 Z" fill="#2c2c2c" filter="url(#b1)"/>
<path d="M210.6,382.4 C210.6,376.4 212.6,375.4 217.6,375.4 L230.8,375.4 C236.8,375.4 237.8,376.9 237.8,381.7 C237.8,391.3 234.8,393.3 228.8,393.3 L217.6,393.8 C212.1,393.8 210.6,391.8 210.6,386.8 Z" fill="#282828" filter="url(#b1)"/>
<path d="M242.0,382.9 C242.0,377.4 244.0,376.4 248.5,376.4 L260.5,376.4 C266.0,376.4 267.0,377.9 267.0,382.25 C267.0,388.3 264.0,390.3 258.5,390.3 L248.5,391.8 C243.5,391.8 242.0,389.8 242.0,385.3 Z" fill="#2a2a2a" filter="url(#b1)"/>
<path d="M271.8,383.8 C271.8,377.8 273.8,376.8 278.8,376.8 L289.6,376.8 C295.6,376.8 296.6,378.3 296.6,383.1 C296.6,387.3 293.6,389.3 287.6,389.3 L278.8,391.8 C273.3,391.8 271.8,389.8 271.8,384.8 Z" fill="#2c2c2c" filter="url(#b1)"/>
<text x="317.80" y="362.29" font-size="10.6" text-anchor="start" font-weight="normal" fill="#111">TAK1</text>
<text x="317.20" y="394.26" font-size="10.8" text-anchor="start" font-weight="normal" fill="#111">ACTIN</text>
<text x="198.10" y="419.76" font-size="10.5" text-anchor="middle" font-weight="normal" fill="#111">UNT</text>
<text x="226.60" y="419.76" font-size="10.5" text-anchor="middle" font-weight="normal" fill="#111">SCR</text>
<text x="256.00" y="419.76" font-size="10.5" text-anchor="middle" font-weight="normal" fill="#111">sh1</text>
<text x="285.80" y="419.76" font-size="10.5" text-anchor="middle" font-weight="normal" fill="#111">sh2</text>
<text x="371.40" y="297.38" font-size="11.5" text-anchor="start" font-weight="bold" fill="#000">D</text>
<line x1="395.50" y1="314.70" x2="395.50" y2="416.90" stroke="#3a3a3a" stroke-width="1"/>
<line x1="392.90" y1="414.50" x2="395.40" y2="414.50" stroke="#3a3a3a" stroke-width="1"/>
<text class="s" x="384.90" y="416.96" font-size="8" text-anchor="middle" font-weight="normal" fill="#111">0.0</text>
<line x1="392.90" y1="389.50" x2="395.40" y2="389.50" stroke="#3a3a3a" stroke-width="1"/>
<text class="s" x="384.90" y="392.03" font-size="8" text-anchor="middle" font-weight="normal" fill="#111">0.5</text>
<line x1="392.90" y1="364.50" x2="395.40" y2="364.50" stroke="#3a3a3a" stroke-width="1"/>
<text class="s" x="384.90" y="367.11" font-size="8" text-anchor="middle" font-weight="normal" fill="#111">1.0</text>
<line x1="392.90" y1="339.50" x2="395.40" y2="339.50" stroke="#3a3a3a" stroke-width="1"/>
<text class="s" x="384.90" y="342.19" font-size="8" text-anchor="middle" font-weight="normal" fill="#111">1.5</text>
<line x1="392.90" y1="314.50" x2="395.40" y2="314.50" stroke="#3a3a3a" stroke-width="1"/>
<text class="s" x="384.90" y="317.26" font-size="8" text-anchor="middle" font-weight="normal" fill="#111">2.0</text>
<line x1="392.90" y1="414.50" x2="517.60" y2="414.50" stroke="#3a3a3a" stroke-width="1"/>
<line x1="395.50" y1="414.40" x2="395.50" y2="416.90" stroke="#3a3a3a" stroke-width="1"/>
<text class="s" x="395.40" y="428.06" font-size="8" text-anchor="middle" font-weight="normal" fill="#111">0</text>
<line x1="426.50" y1="414.40" x2="426.50" y2="416.90" stroke="#3a3a3a" stroke-width="1"/>
<text class="s" x="426.00" y="428.06" font-size="8" text-anchor="middle" font-weight="normal" fill="#111">2</text>
<line x1="456.50" y1="414.40" x2="456.50" y2="416.90" stroke="#3a3a3a" stroke-width="1"/>
<text class="s" x="456.60" y="428.06" font-size="8" text-anchor="middle" font-weight="normal" fill="#111">4</text>
<line x1="487.50" y1="414.40" x2="487.50" y2="416.90" stroke="#3a3a3a" stroke-width="1"/>
<text class="s" x="487.20" y="428.06" font-size="8" text-anchor="middle" font-weight="normal" fill="#111">6</text>
<line x1="517.50" y1="414.40" x2="517.50" y2="416.90" stroke="#3a3a3a" stroke-width="1"/>
<text class="s" x="517.80" y="428.06" font-size="8" text-anchor="middle" font-weight="normal" fill="#111">8</text>
<text x="455.60" y="441.48" font-size="11.2" text-anchor="middle" font-weight="normal" fill="#111">days</text>
<text x="372.7" y="414.5" font-size="10.5" text-anchor="start" fill="#111" transform="rotate(-90 372.7 414.5) translate(0 3.8)">cell proliferation (*10<tspan font-size="6.5" dy="-7.5" dx="-1">6</tspan><tspan dy="7.5" dx="-0.5">)</tspan></text>
<polyline points="395.40,406.42 410.70,406.42 441.30,406.92 456.60,410.91 502.50,410.91" fill="none" stroke="#444" stroke-width="0.9"/>
<polyline points="395.40,406.42 410.70,406.42 441.30,404.43 456.60,402.93 502.50,406.42" fill="none" stroke="#444" stroke-width="0.9"/>
<polyline points="410.70,406.42 441.30,396.45 456.60,381.50 502.50,341.12" fill="none" stroke="#444" stroke-width="0.9"/>
<line x1="456.50" y1="376.51" x2="456.50" y2="381.50" stroke="#444" stroke-width="0.8"/>
<line x1="455.30" y1="376.50" x2="457.90" y2="376.50" stroke="#444" stroke-width="0.8"/>
<circle cx="395.40" cy="406.42" r="3.0" fill="#fff" stroke="#222" stroke-width="0.9"/>
<circle cx="410.70" cy="406.42" r="3.0" fill="#fff" stroke="#222" stroke-width="0.9"/>
<circle cx="441.30" cy="406.92" r="3.0" fill="#fff" stroke="#222" stroke-width="0.9"/>
<circle cx="456.60" cy="410.91" r="3.0" fill="#fff" stroke="#222" stroke-width="0.9"/>
<circle cx="502.50" cy="410.91" r="3.0" fill="#fff" stroke="#222" stroke-width="0.9"/>
<rect x="392.50" y="403.50" width="6.00" height="6.00" fill="#fff" stroke="#222" stroke-width="0.9"/>
<rect x="407.50" y="403.50" width="6.00" height="6.00" fill="#fff" stroke="#222" stroke-width="0.9"/>
<rect x="438.50" y="401.50" width="6.00" height="6.00" fill="#fff" stroke="#222" stroke-width="0.9"/>
<rect x="453.50" y="399.50" width="6.00" height="6.00" fill="#fff" stroke="#222" stroke-width="0.9"/>
<rect x="499.50" y="403.50" width="6.00" height="6.00" fill="#fff" stroke="#222" stroke-width="0.9"/>
<polygon points="441.30,392.85 444.90,396.45 441.30,400.05 437.70,396.45" fill="#000"/>
<polygon points="456.60,377.90 460.20,381.50 456.60,385.10 453.00,381.50" fill="#000"/>
<polygon points="502.50,337.52 506.10,341.12 502.50,344.72 498.90,341.12" fill="#000"/>
<rect x="406.50" y="323.50" width="47.00" height="37.00" fill="#fff" stroke="#555" stroke-width="0.9"/>
<line x1="411.00" y1="328.50" x2="429.40" y2="328.50" stroke="#333" stroke-width="0.9"/>
<line x1="411.00" y1="342.50" x2="429.40" y2="342.50" stroke="#333" stroke-width="0.9"/>
<line x1="411.00" y1="355.50" x2="429.40" y2="355.50" stroke="#333" stroke-width="0.9"/>
<polygon points="420.20,326.00 422.80,328.60 420.20,331.20 417.60,328.60" fill="#000"/>
<circle cx="420.20" cy="342.00" r="2.4" fill="#fff" stroke="#222" stroke-width="0.9"/>
<rect x="417.50" y="353.50" width="5.00" height="4.00" fill="#fff" stroke="#222" stroke-width="0.9"/>
<text class="s" x="435.00" y="331.03" font-size="7.6" text-anchor="start" font-weight="normal" fill="#111">SCR</text>
<text class="s" x="435.00" y="344.43" font-size="7.6" text-anchor="start" font-weight="normal" fill="#111">sh1</text>
<text class="s" x="435.00" y="357.93" font-size="7.6" text-anchor="start" font-weight="normal" fill="#111">sh2</text>
<text x="1.50" y="465.31" font-size="11.6" text-anchor="start" font-weight="bold" fill="#000">E</text>
<line x1="34.50" y1="475.40" x2="34.50" y2="583.30" stroke="#7a7a7a" stroke-width="1"/>
<line x1="32.10" y1="580.50" x2="34.60" y2="580.50" stroke="#7a7a7a" stroke-width="1"/>
<text class="s" x="21.80" y="583.30" font-size="7.8" text-anchor="middle" font-weight="normal" fill="#111">0</text>
<line x1="32.10" y1="563.50" x2="34.60" y2="563.50" stroke="#7a7a7a" stroke-width="1"/>
<text class="s" x="21.80" y="565.73" font-size="7.8" text-anchor="middle" font-weight="normal" fill="#111">20</text>
<line x1="32.10" y1="545.50" x2="34.60" y2="545.50" stroke="#7a7a7a" stroke-width="1"/>
<text class="s" x="21.80" y="548.16" font-size="7.8" text-anchor="middle" font-weight="normal" fill="#111">40</text>
<line x1="32.10" y1="528.50" x2="34.60" y2="528.50" stroke="#7a7a7a" stroke-width="1"/>
<text class="s" x="21.80" y="530.60" font-size="7.8" text-anchor="middle" font-weight="normal" fill="#111">60</text>
<line x1="32.10" y1="510.50" x2="34.60" y2="510.50" stroke="#7a7a7a" stroke-width="1"/>
<text class="s" x="21.80" y="513.03" font-size="7.8" text-anchor="middle" font-weight="normal" fill="#111">80</text>
<line x1="32.10" y1="492.50" x2="34.60" y2="492.50" stroke="#7a7a7a" stroke-width="1"/>
<text class="s" x="21.80" y="495.46" font-size="7.8" text-anchor="middle" font-weight="normal" fill="#111">100</text>
<line x1="32.10" y1="475.50" x2="34.60" y2="475.50" stroke="#7a7a7a" stroke-width="1"/>
<text class="s" x="21.80" y="477.90" font-size="7.8" text-anchor="middle" font-weight="normal" fill="#111">120</text>
<line x1="32.10" y1="580.50" x2="175.80" y2="580.50" stroke="#3a3a3a" stroke-width="1"/>
<line x1="81.50" y1="580.80" x2="81.50" y2="583.30" stroke="#3a3a3a" stroke-width="1"/>
<line x1="128.50" y1="580.80" x2="128.50" y2="583.30" stroke="#3a3a3a" stroke-width="1"/>
<rect x="40.50" y="575.50" width="11.00" height="5.00" fill="#fff" stroke="#2a2a2a" stroke-width="0.8"/>
<rect x="51.50" y="575.50" width="10.00" height="5.00" fill="#000" stroke="#2a2a2a" stroke-width="0.8"/>
<rect x="61.50" y="575.50" width="11.00" height="5.00" fill="#b4b4b4" stroke="#2a2a2a" stroke-width="0.8"/>
<rect x="88.50" y="568.50" width="11.00" height="12.00" fill="#fff" stroke="#2a2a2a" stroke-width="0.8"/>
<rect x="99.50" y="524.50" width="11.00" height="56.00" fill="#000" stroke="#2a2a2a" stroke-width="0.8"/>
<rect x="110.50" y="558.50" width="11.00" height="22.00" fill="#b4b4b4" stroke="#2a2a2a" stroke-width="0.8"/>
<rect x="136.50" y="553.50" width="11.00" height="27.00" fill="#fff" stroke="#2a2a2a" stroke-width="0.8"/>
<rect x="147.50" y="494.50" width="11.00" height="86.00" fill="#000" stroke="#2a2a2a" stroke-width="0.8"/>
<rect x="158.50" y="499.50" width="11.00" height="81.00" fill="#b4b4b4" stroke="#2a2a2a" stroke-width="0.8"/>
<text class="s" x="55.40" y="590.16" font-size="8" text-anchor="middle" font-weight="normal" fill="#111">1</text>
<text class="s" x="104.90" y="590.16" font-size="8" text-anchor="middle" font-weight="normal" fill="#111">3</text>
<text class="s" x="153.10" y="590.16" font-size="8" text-anchor="middle" font-weight="normal" fill="#111">7</text>
<text x="5.40" y="528.70" font-size="10" text-anchor="middle" font-weight="normal" fill="#111" transform="rotate(-90 5.40 525.50)">Annexin V+ cells (%)</text>
<text x="107.30" y="602.98" font-size="11.2" text-anchor="middle" font-weight="normal" fill="#111">days</text>
<rect x="48.50" y="478.50" width="34.00" height="37.00" fill="#fff" stroke="#555" stroke-width="0.9"/>
<rect x="51.50" y="483.50" width="5.00" height="5.00" fill="#fff" stroke="#333" stroke-width="0.8"/>
<rect x="51.50" y="495.50" width="5.00" height="6.00" fill="#000" stroke="#333" stroke-width="0.8"/>
<rect x="51.50" y="508.50" width="5.00" height="5.00" fill="#b4b4b4" stroke="#333" stroke-width="0.8"/>
<text class="s" x="60.70" y="488.33" font-size="7.6" text-anchor="start" font-weight="normal" fill="#111">SCR</text>
<text class="s" x="60.70" y="500.93" font-size="7.6" text-anchor="start" font-weight="normal" fill="#111">sh1</text>
<text class="s" x="60.70" y="513.23" font-size="7.6" text-anchor="start" font-weight="normal" fill="#111">sh2</text>
<text x="188.30" y="465.22" font-size="11" text-anchor="start" font-weight="bold" fill="#000">F</text>
<rect x="187.50" y="492.50" width="123.00" height="17.00" fill="#c5c5c5" stroke="#1a1a1a" stroke-width="1.3"/>
<rect x="245.80" y="498.90" width="17.30" height="3.00" rx="1.40" fill="#4c4c4c" filter="url(#b07)"/>
<rect x="245.80" y="502.60" width="17.30" height="2.90" rx="1.40" fill="#505050" filter="url(#b07)"/>
<rect x="272.00" y="498.90" width="16.80" height="3.00" rx="1.40" fill="#4c4c4c" filter="url(#b07)"/>
<rect x="272.00" y="502.60" width="16.80" height="2.90" rx="1.40" fill="#505050" filter="url(#b07)"/>
<rect x="187.50" y="521.50" width="123.00" height="27.00" fill="#bcbcbc" stroke="#1a1a1a" stroke-width="1.3"/>
<path d="M189.4,531.6 C193.4,530.4 197.4,529.0799999999999 201.4,528.0 C208.4,528.0 208.9,531.24 208.4,533.6 C208.4,538.8 203.4,538.8 199.4,538.8 C197.4,537.72 193.4,536.4 189.4,535.1999999999999 Z" fill="#2c2c2c" filter="url(#b1)"/>
<path d="M212.6,532.5 C212.6,527.0 214.6,526.0 219.1,526.0 L230.5,526.0 C236.0,526.0 237.0,527.5 237.0,531.85 C237.0,539.1 234.0,541.1 228.5,541.1 L219.1,541.6 C214.1,541.6 212.6,539.6 212.6,535.1 Z" fill="#282828" filter="url(#b1)"/>
<path d="M241.4,532.8 C241.4,527.8 243.4,526.8 247.4,526.8 L257.9,526.8 C262.9,526.8 263.9,528.3 263.9,532.1999999999999 C263.9,536.8 260.9,538.8 255.89999999999998,538.8 L247.4,540.0 C242.9,540.0 241.4,538.0 241.4,534.0 Z" fill="#2a2a2a" filter="url(#b1)"/>
<path d="M268.8,533.5 C268.8,528.0 270.8,527.0 275.3,527.0 L284.3,527.0 C289.8,527.0 290.8,528.5 290.8,532.85 C290.8,536.2 287.8,538.2 282.3,538.2 L275.3,540.2 C270.3,540.2 268.8,538.2 268.8,533.7 Z" fill="#2c2c2c" filter="url(#b1)"/>
<text x="321.20" y="504.99" font-size="10.9" text-anchor="start" font-weight="normal" fill="#111">Cleaved caspase 8</text>
<text x="322.60" y="538.86" font-size="10.8" text-anchor="start" font-weight="normal" fill="#111">ACTIN</text>
<text x="203.10" y="565.16" font-size="10.5" text-anchor="middle" font-weight="normal" fill="#111">UNT</text>
<text x="232.00" y="565.16" font-size="10.5" text-anchor="middle" font-weight="normal" fill="#111">SCR</text>
<text x="261.70" y="565.16" font-size="10.5" text-anchor="middle" font-weight="normal" fill="#111">sh1</text>
<text x="291.50" y="565.16" font-size="10.5" text-anchor="middle" font-weight="normal" fill="#111">sh2</text>
</svg>
</body></html>
